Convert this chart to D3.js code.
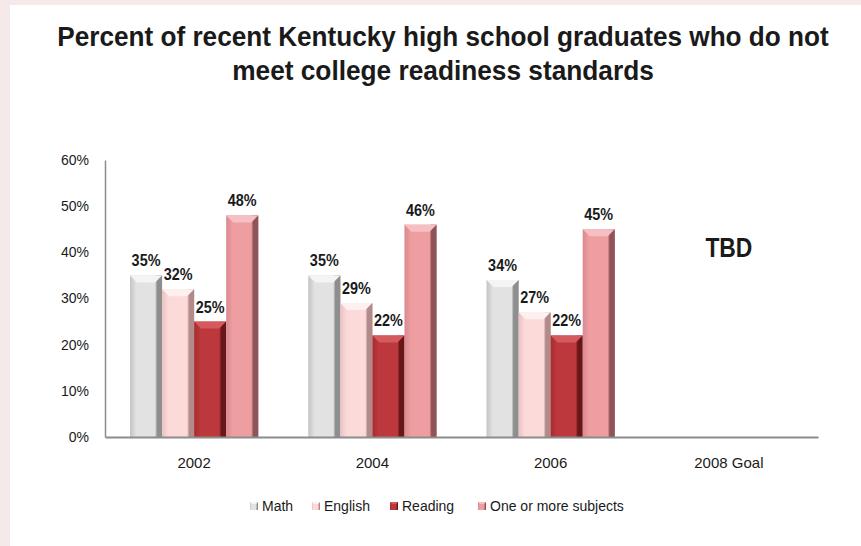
<!DOCTYPE html>
<html>
<head>
<meta charset="utf-8">
<script src="https://cdn.jsdelivr.net/npm/d3@7"></script>
<style>
  body { margin: 0; background: #f5e9e9; }
  svg { display: block; font-family: "Liberation Sans", Arial, sans-serif; }
</style>
</head>
<body>
<svg id="chart" width="861" height="546"></svg>
<script>
// chart data
var years = ["2002", "2004", "2006", "2008 Goal"]
var subjects = ["Math", "English", "Reading", "One or more subjects"]
var math = [0.35, 0.35, 0.34, null]
var english = [0.32, 0.29, 0.27, null]
var reading = [0.25, 0.22, 0.22, null]
var oneOrMore = [0.48, 0.46, 0.45, null]
var yTicks = [0, 0.1, 0.2, 0.3, 0.4, 0.5, 0.6]
var titleLines = ["Percent of recent Kentucky high school graduates who do not", "meet college readiness standards"]
var goalNote = "TBD"

// colours per series: base, left edge, right edge, top bevel
var palette = [
  { base: "#e2e2e2", left: "#c4c4c4", right: "#8e8e8e", top: "#f4f4f4" },
  { base: "#fddada", left: "#e8c2c2", right: "#b38a8a", top: "#fff0f0" },
  { base: "#bd383c", left: "#a52b2f", right: "#6a1719", top: "#d45a5e" },
  { base: "#ee9da1", left: "#d98a8e", right: "#8e5457", top: "#f6bfc1" }
]

var seriesValues = [math, english, reading, oneOrMore]
var rows = []
years.forEach(function (yr, i) {
  subjects.forEach(function (s, j) {
    if (seriesValues[j][i] != null) rows.push({ year: yr, subject: s, idx: j, value: seriesValues[j][i] })
  })
})

var svg = d3.select("#chart")

// white panel
svg.append("rect").attr("x", 10).attr("y", 5).attr("width", 851).attr("height", 541).attr("fill", "#fff")

var plotLeft = 105, plotRight = 818, plotTop = 160, plotBottom = 437

var x = d3.scaleBand().domain(years).range([plotLeft, plotRight])
var xi = d3.scaleBand().domain(subjects).range([25, x.bandwidth() - 25])
var y = d3.scaleLinear().domain([0, 0.6]).range([plotBottom, plotTop])

// gradients for the bevelled bars
var defs = svg.append("defs")
palette.forEach(function (c, i) {
  var g = defs.append("linearGradient").attr("id", "grad" + i)
    .attr("x1", "0").attr("x2", "1").attr("y1", "0").attr("y2", "0")
  g.append("stop").attr("offset", "0").attr("stop-color", c.left)
  g.append("stop").attr("offset", "0.2").attr("stop-color", c.base)
  g.append("stop").attr("offset", "0.78").attr("stop-color", c.base)
  g.append("stop").attr("offset", "0.85").attr("stop-color", c.right)
  g.append("stop").attr("offset", "1").attr("stop-color", c.right)
})

// bold text in the original is a narrow face: draw it at (cx, by) and
// squeeze it horizontally, either to a given width or by a ratio
function narrowText(parent, str, cx, by, size, width) {
  var g = parent.append("g")
  var t = g.append("text")
    .attr("text-anchor", "middle")
    .attr("font-size", size)
    .attr("font-weight", "bold")
    .attr("fill", "#1a1a1a")
    .text(str)
  var w = t.node().getComputedTextLength()
  var k = width.ratio ? width.ratio : width / w
  g.attr("transform", "translate(" + cx + "," + by + ") scale(" + k + ",1)")
  return g
}

// title
var titleWidths = [772, 422]
titleLines.forEach(function (line, i) {
  narrowText(svg, line, 443, 46 + i * 34, 28, titleWidths[i])
})

// y axis
var yAxis = svg.append("g").attr("transform", "translate(" + plotLeft + ",0)")
  .call(d3.axisLeft(y).tickValues(yTicks).tickFormat(d3.format(".0%")).tickSize(0).tickPadding(16))
yAxis.select(".domain").attr("stroke", "#8c8c8c").attr("stroke-width", 1.5)
yAxis.selectAll("text").attr("font-size", 14).attr("fill", "#1a1a1a").attr("font-family", "Liberation Sans, Arial, sans-serif")

// bars
var bw = xi.bandwidth()
var bars = svg.append("g").selectAll("g").data(rows).enter().append("g")
  .attr("transform", function (d) { return "translate(" + (x(d.year) + xi(d.subject)) + ",0)" })

bars.append("rect")
  .attr("x", 0)
  .attr("y", function (d) { return y(d.value) })
  .attr("width", bw)
  .attr("height", function (d) { return y(0) - y(d.value) })
  .attr("fill", function (d) { return "url(#grad" + d.idx + ")" })

// top bevel
bars.append("polygon")
  .attr("points", function (d) {
    var t = y(d.value), b = 7
    return [[0, t], [bw, t], [bw - b, t + b], [b, t + b]].join(" ")
  })
  .attr("fill", function (d) { return palette[d.idx].top })

// right bevel shading
bars.append("polygon")
  .attr("points", function (d) {
    var t = y(d.value), b = 5
    return [[bw, t], [bw, y(0)], [bw - b, y(0)], [bw - b, t + 7]].join(" ")
  })
  .attr("fill", function (d) { return palette[d.idx].right })
  .attr("opacity", 0.7)

// value labels
bars.each(function (d) {
  narrowText(d3.select(this), Math.round(d.value * 100) + "%", bw / 2, y(d.value) - 9, 16, { ratio: 0.9 })
})

// x axis
var xAxis = svg.append("g").attr("transform", "translate(0," + plotBottom + ")")
  .call(d3.axisBottom(x).tickSize(0).tickPadding(20))
xAxis.select(".domain").attr("stroke", "#8c8c8c").attr("stroke-width", 2)
xAxis.selectAll("text").attr("font-size", 15).attr("fill", "#1a1a1a").attr("font-family", "Liberation Sans, Arial, sans-serif")

// goal note
narrowText(svg, goalNote, x("2008 Goal") + x.bandwidth() / 2, y(0.39), 27, 47)

// legend
var legendX = [250, 312, 390, 478]
var legend = svg.append("g").selectAll("g").data(subjects).enter().append("g")
  .attr("transform", function (d, i) { return "translate(" + legendX[i] + ",502)" })
legend.append("rect").attr("width", 8).attr("height", 8)
  .attr("fill", function (d, i) { return "url(#grad" + i + ")" })
legend.append("polygon").attr("points", "0,0 8,0 6,2 2,2")
  .attr("fill", function (d, i) { return palette[i].top })
legend.append("text")
  .attr("x", 12).attr("y", 9)
  .attr("font-size", 14)
  .attr("fill", "#1a1a1a")
  .text(function (d) { return d })
</script>
</body>
</html>
